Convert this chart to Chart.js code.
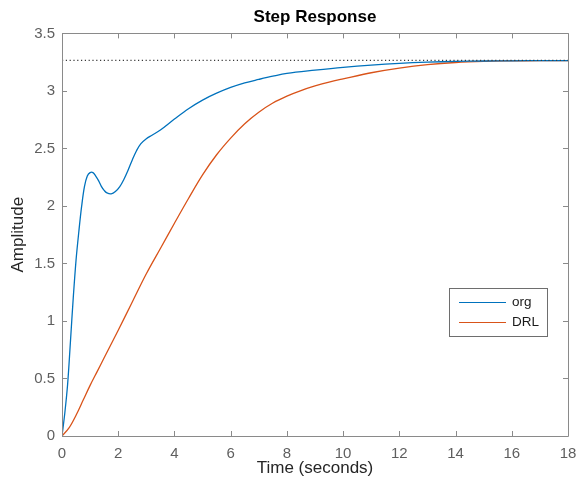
<!DOCTYPE html>
<html>
<head>
<meta charset="utf-8">
<script src="https://cdn.jsdelivr.net/npm/chart.js@4.4.1/dist/chart.umd.min.js"></script>
<style>
  html, body { margin: 0; padding: 0; background: #ffffff; }
  canvas { display: block; }
</style>
</head>
<body>
<canvas id="c" width="578" height="489"></canvas>
<script>
// ---- data ----
const orgTime = [0, 0.1, 0.2, 0.3, 0.4, 0.5, 0.6, 0.7, 0.8, 0.9, 1.0, 1.1, 1.2, 1.3, 1.4, 1.5, 1.6, 1.75, 1.9, 2.05, 2.2, 2.35, 2.5, 2.65, 2.8, 3.0, 3.2, 3.5, 4.0, 4.5, 5.0, 5.5, 6.0, 6.5, 7.0, 7.5, 8.0, 9.0, 10, 11, 12, 13, 14, 15, 16, 17, 18];
const orgAmp  = [0, 0.2, 0.45, 0.82, 1.2, 1.53, 1.78, 2.0, 2.17, 2.26, 2.29, 2.29, 2.26, 2.22, 2.17, 2.135, 2.113, 2.105, 2.125, 2.165, 2.23, 2.31, 2.40, 2.48, 2.54, 2.585, 2.615, 2.66, 2.755, 2.845, 2.92, 2.98, 3.03, 3.07, 3.10, 3.128, 3.152, 3.18, 3.205, 3.225, 3.24, 3.25, 3.256, 3.26, 3.262, 3.263, 3.264];

const drlTime = [0, 0.25, 0.5, 0.75, 1.0, 1.25, 1.5, 2.0, 2.5, 3.0, 3.5, 4.0, 4.5, 5.0, 5.5, 6.0, 6.5, 7.0, 7.5, 8.0, 8.5, 9.0, 9.5, 10, 11, 12, 13, 14, 15, 16, 17, 18];
const drlAmp  = [0, 0.07, 0.18, 0.31, 0.44, 0.56, 0.68, 0.92, 1.165, 1.41, 1.63, 1.85, 2.065, 2.27, 2.445, 2.59, 2.715, 2.815, 2.895, 2.955, 3.003, 3.043, 3.077, 3.105, 3.158, 3.198, 3.228, 3.247, 3.257, 3.261, 3.263, 3.264];

const steadyTime = [0, 18];
const steadyAmp  = [3.265, 3.265];

const xTickValues = [0, 2, 4, 6, 8, 10, 12, 14, 16, 18];
const yTickLabels = ['0', '0.5', '1', '1.5', '2', '2.5', '3', '3.5'];
const seriesLabels = ['org', 'DRL'];
const titleText = 'Step Response';
const xTitle = 'Time (seconds)';
const yTitle = 'Amplitude';

function pts(xs, ys) { return xs.map((x, i) => ({ x: x, y: ys[i] })); }

const FONT = "'Liberation Sans', Arial, Helvetica, sans-serif";
const AXIS_COLOR = '#8a8a8a';
const TICK_TEXT = '#5f5f5f';

const boxPlugin = {
  id: 'matlabBox',
  afterDraw(chart) {
    const ctx = chart.ctx;
    const a = chart.chartArea;
    const xs = chart.scales.x, ys = chart.scales.y;
    ctx.save();
    ctx.strokeStyle = AXIS_COLOR;
    ctx.lineWidth = 1;
    ctx.beginPath();
    ctx.rect(Math.round(a.left) + 0.5, Math.round(a.top) + 0.5, Math.round(a.right - a.left), Math.round(a.bottom - a.top));
    ctx.stroke();
    const L = 5;
    ctx.beginPath();
    xs.ticks.forEach(t => {
      const px = Math.round(xs.getPixelForValue(t.value)) + 0.5;
      ctx.moveTo(px, a.bottom); ctx.lineTo(px, a.bottom - L);
      ctx.moveTo(px, a.top); ctx.lineTo(px, a.top + L);
    });
    ys.ticks.forEach(t => {
      const py = Math.round(ys.getPixelForValue(t.value)) + 0.5;
      ctx.moveTo(a.left, py); ctx.lineTo(a.left + L, py);
      ctx.moveTo(a.right, py); ctx.lineTo(a.right - L, py);
    });
    ctx.stroke();

    // legend (drawn from dataset labels/colours)
    const bx = 449.5, by = 288.5, bw = 98, bh = 48;
    ctx.fillStyle = '#ffffff';
    ctx.fillRect(bx, by, bw, bh);
    ctx.strokeStyle = '#6e6e6e';
    ctx.strokeRect(bx, by, bw, bh);
    ctx.font = '13.5px ' + FONT;
    ctx.textBaseline = 'middle';
    ctx.textAlign = 'left';
    const items = chart.data.datasets.filter(d => seriesLabels.includes(d.label));
    items.forEach((d, i) => {
      const y = 302.5 + i * 20;
      ctx.strokeStyle = d.borderColor;
      ctx.lineWidth = 1.2;
      ctx.beginPath();
      ctx.moveTo(459, y); ctx.lineTo(506, y);
      ctx.stroke();
      ctx.fillStyle = '#1a1a1a';
      ctx.fillText(d.label, 512, y);
    });
    ctx.restore();
  }
};

new Chart(document.getElementById('c'), {
  type: 'line',
  data: {
    datasets: [
      {
        label: 'steady',
        data: pts(steadyTime, steadyAmp),
        borderColor: '#3a3a3a',
        borderWidth: 1.2,
        borderDash: [1.2, 2.6],
        pointRadius: 0,
        fill: false
      },
      {
        label: seriesLabels[0],
        data: pts(orgTime, orgAmp),
        borderColor: '#0072BD',
        borderWidth: 1.3,
        pointRadius: 0,
        tension: 0.35,
        fill: false
      },
      {
        label: seriesLabels[1],
        data: pts(drlTime, drlAmp),
        borderColor: '#D95319',
        borderWidth: 1.3,
        pointRadius: 0,
        tension: 0.35,
        fill: false
      }
    ]
  },
  options: {
    responsive: false,
    animation: false,
    devicePixelRatio: 1,
    layout: { padding: { left: 0, right: 10, top: 0, bottom: 0 } },
    plugins: {
      legend: { display: false },
      tooltip: { enabled: false },
      title: {
        display: true,
        text: titleText,
        fullSize: false,
        color: '#000000',
        font: { family: FONT, size: 17, weight: 'bold' },
        padding: { top: 7, bottom: 6 }
      }
    },
    scales: {
      x: {
        type: 'linear',
        min: 0, max: 18,
        afterFit(s) { s.height = 53; s.paddingLeft = 0; s.paddingRight = 0; },
        afterBuildTicks(s) { s.ticks = xTickValues.map(v => ({ value: v })); },
        grid: { display: false, drawTicks: false },
        border: { display: false },
        ticks: {
          color: TICK_TEXT,
          padding: 9,
          maxRotation: 0,
          font: { family: FONT, size: 15 },
          callback: v => String(v)
        },
        title: {
          display: true,
          text: xTitle,
          color: '#262626',
          font: { family: FONT, size: 17 },
          padding: { top: 0, bottom: 10.8 }
        }
      },
      y: {
        type: 'linear',
        min: 0, max: 3.5,
        afterFit(s) { s.width = 62; s.paddingTop = 0; s.paddingBottom = 0; },
        afterBuildTicks(s) { s.ticks = yTickLabels.map(l => ({ value: parseFloat(l) })); },
        grid: { display: false, drawTicks: false },
        border: { display: false },
        ticks: {
          color: TICK_TEXT,
          padding: 7,
          font: { family: FONT, size: 15 },
          callback: (v, i) => yTickLabels[i]
        },
        title: {
          display: true,
          text: yTitle,
          color: '#262626',
          font: { family: FONT, size: 17 },
          padding: { top: 7.8, bottom: 0 }
        }
      }
    }
  },
  plugins: [boxPlugin]
});
</script>
</body>
</html>
